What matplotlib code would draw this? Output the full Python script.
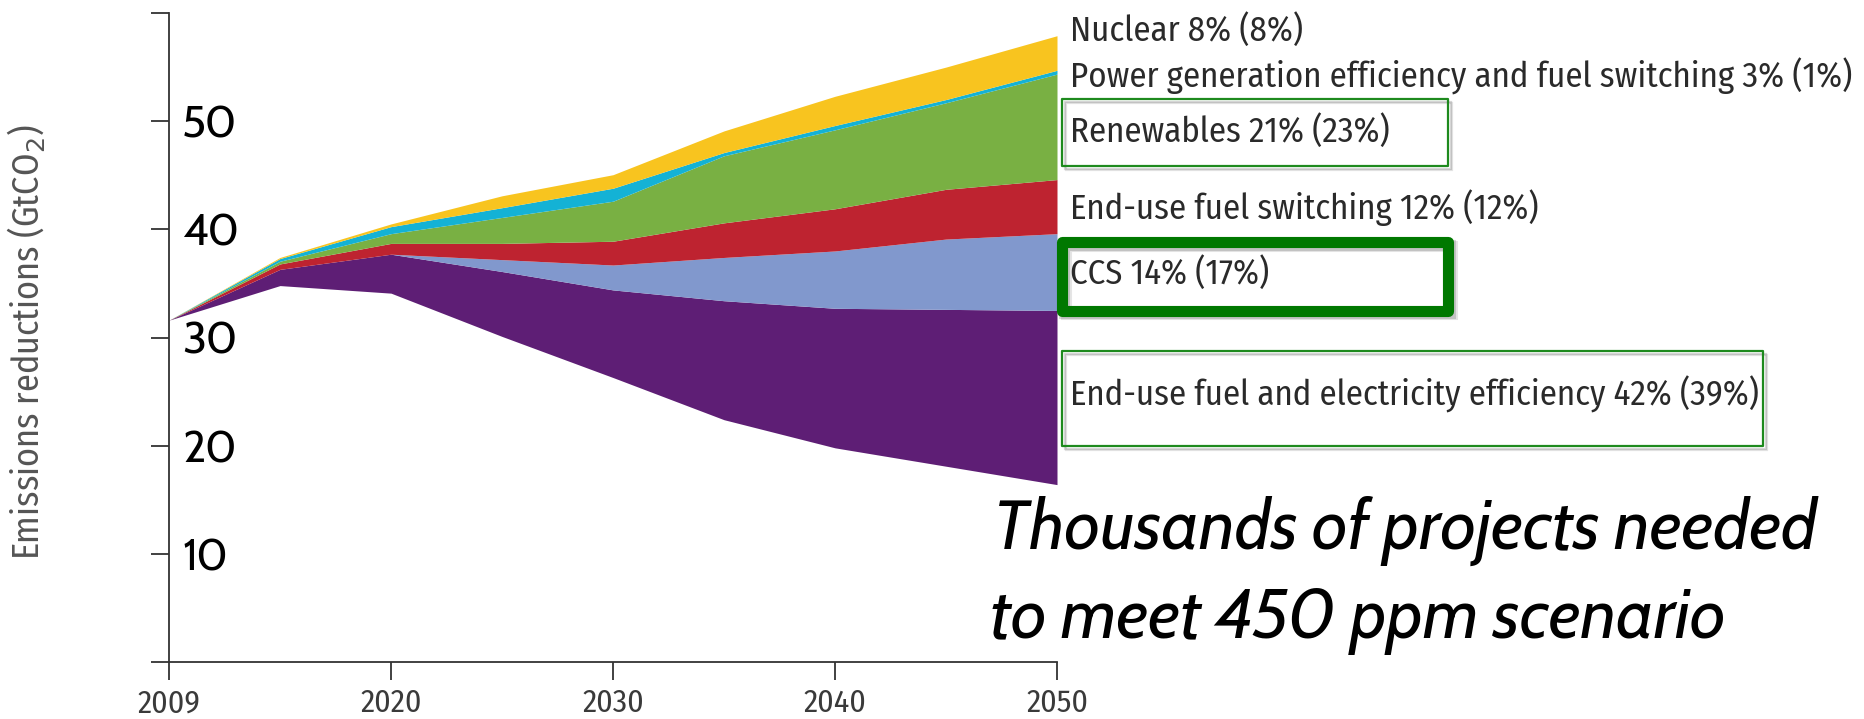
import numpy as np
import matplotlib.pyplot as plt
from matplotlib.patches import Rectangle

# years (first point is the 2009 base year, drawn on the 2010 slot)
years = [2010, 2015, 2020, 2025, 2030, 2035, 2040, 2045, 2050]
year_ticks = [2010, 2020, 2030, 2040, 2050]
year_labels = ['2009', '2020', '2030', '2040', '2050']

# emissions left after all measures (GtCO2)
remaining = [31.6, 34.8, 34.1, 30.1, 26.3, 22.4, 19.8, 18.1, 16.4]

# reductions by measure, stacked from the bottom up (GtCO2)
efficiency = [0, 1.5, 3.6, 6.0, 8.1, 11.0, 12.9, 14.5, 16.1]
ccs = [0, 0, 0, 1.1, 2.3, 4.0, 5.3, 6.5, 7.1]
fuel_switch = [0, 0.5, 1.0, 1.5, 2.2, 3.2, 3.9, 4.6, 5.0]
renewables = [0, 0.25, 0.9, 2.4, 3.7, 6.2, 7.3, 8.0, 9.75]
power_gen = [0, 0.25, 0.65, 0.9, 1.2, 0.3, 0.4, 0.3, 0.35]
nuclear = [0, 0.1, 0.25, 1.1, 1.25, 2.0, 2.7, 3.0, 3.2]

layers = [efficiency, ccs, fuel_switch, renewables, power_gen, nuclear]
colors = ['#5e1e75', '#8198cd', '#be2330', '#79b043', '#14b2d5', '#f8c41f']

labels = ['Nuclear 8% (8%)',
          'Power generation efficiency and fuel switching 3% (1%)',
          'Renewables 21% (23%)',
          'End-use fuel switching 12% (12%)',
          'CCS 14% (17%)',
          'End-use fuel and electricity efficiency 42% (39%)']

W, H = 1864, 719
fig = plt.figure(figsize=(W / 100, H / 100), dpi=100)
ax = fig.add_axes([169 / W, 1 - 662 / H, (1057 - 169) / W, (662 - 13) / H])

narrow = ['Fira Sans Condensed', 'Liberation Sans', 'DejaVu Sans']
gill = ['Cabin', 'Lato', 'DejaVu Sans']

bottom = np.array(remaining, dtype=float)
for vals, c in zip(layers, colors):
    top = bottom + np.array(vals)
    ax.fill_between(years, bottom, top, color=c, linewidth=0)
    bottom = top

ax.set_xlim(2010, 2050)
ax.set_ylim(0, 60)
for s in ['top', 'right']:
    ax.spines[s].set_visible(False)
for s in ['left', 'bottom']:
    ax.spines[s].set_color('#333333')
    ax.spines[s].set_linewidth(1.3)

ax.set_xticks(year_ticks)
ax.set_xticklabels(year_labels, family=narrow, fontsize=23, color='#3a3a3a')
ax.tick_params(axis='x', direction='out', length=13, width=1.3, color='#333333', pad=6)

ax.set_yticks([0, 10, 20, 30, 40, 50, 60])
ax.set_yticklabels(['', '10', '20', '30', '40', '50', ''], family=gill, fontsize=32)
ax.tick_params(axis='y', direction='out', length=13, width=1.3, color='#333333', pad=-22.5)
for t in ax.get_yticklabels():
    t.set_horizontalalignment('left')

fig.text(26 / W, 1 - 342 / H, 'Emissions reductions (GtCO$_2$)', rotation=90,
         ha='center', va='center', fontsize=26, color='#555555', family=narrow)

# labels to the right of the 2050 edge
label_y = [30, 76, 131, 208, 273, 394]
for txt, y in zip(labels, label_y):
    fig.text(1070 / W, 1 - y / H, txt, ha='left', va='center', fontsize=25,
             color='#2a2a2a', family=narrow)


def frame(x0, y0, x1, y1, lw, color):
    # soft drop shadow, then the frame itself
    for k, a in [(4, 0.10), (2.5, 0.15)]:
        fig.add_artist(Rectangle(((x0 + k) / W, 1 - (y1 + k) / H), (x1 - x0) / W, (y1 - y0) / H,
                                 transform=fig.transFigure, fill=False, edgecolor='black',
                                 alpha=a, linewidth=lw))
    fig.add_artist(Rectangle((x0 / W, 1 - y1 / H), (x1 - x0) / W, (y1 - y0) / H,
                             transform=fig.transFigure, fill=False, edgecolor=color,
                             linewidth=lw, joinstyle='round'))


frame(1062, 99, 1448, 166, 1.6, '#1e8a1e')
frame(1061.5, 242.5, 1447.5, 310.5, 8, '#007800')
frame(1062, 351, 1763, 446, 1.6, '#1e8a1e')

fig.text(993 / W, 1 - 549 / H, 'Thousands of projects needed', ha='left', va='baseline',
         fontsize=50, style='italic', family=gill, color='black')
fig.text(990 / W, 1 - 638 / H, 'to meet 450 ppm scenario', ha='left', va='baseline',
         fontsize=50, style='italic', family=gill, color='black')

fig.savefig('out.png', dpi=100)
